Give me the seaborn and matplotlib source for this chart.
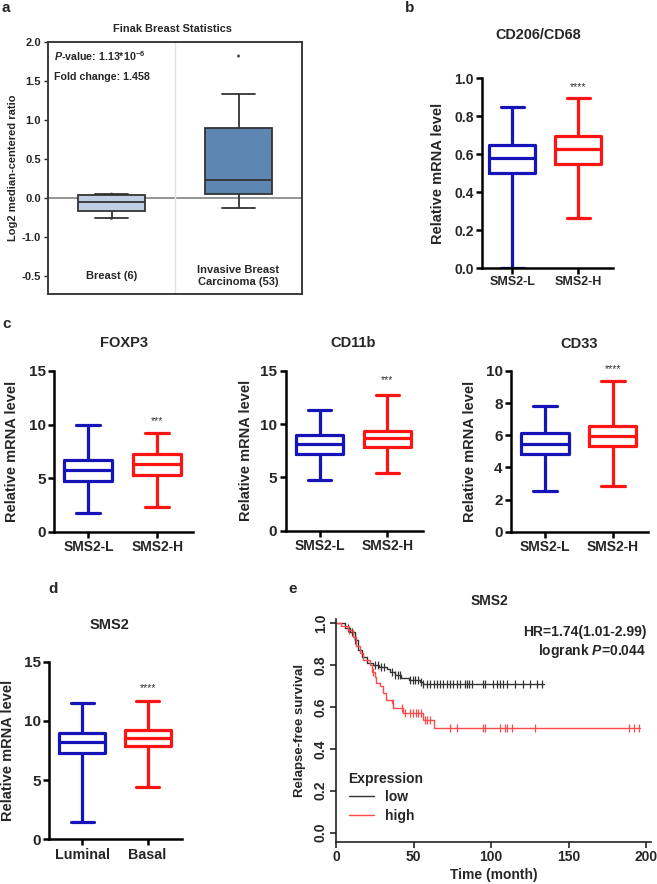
import numpy as np
import pandas as pd
import matplotlib
matplotlib.use("Agg")
import matplotlib.pyplot as plt
import seaborn as sns

# ==========================================================
# Data
# ==========================================================

# panel a - Oncomine box (min, q1, median, q3, max)
a_groups = ["Breast (6)", "Invasive Breast\nCarcinoma (53)"]
a_breast = [-0.26, -0.16, -0.05, 0.04, 0.05]
a_invasive = [-0.13, 0.05, 0.23, 0.90, 1.33]
a_dot_group = ["Breast (6)", "Breast (6)", "Invasive Breast\nCarcinoma (53)"]
a_dot_value = [0.05, -0.26, 1.82]
a_ticks = [2.0, 1.5, 1.0, 0.5, 0.0, -0.5, -1.0]
a_ticklabels = ["2.0", "1.5", "1.0", "0.5", "0.0", "-1.0", "-0.5"]

# panels b, c, d - GraphPad boxes (min, q1, median, q3, max)
sms2_groups = ["SMS2-L", "SMS2-H"]
cd206_low = [0.0, 0.50, 0.58, 0.65, 0.845]
cd206_high = [0.265, 0.55, 0.625, 0.695, 0.895]
foxp3_low = [1.72, 4.69, 5.72, 6.69, 10.0]
foxp3_high = [2.34, 5.31, 6.31, 7.25, 9.22]
cd11b_low = [4.72, 7.23, 8.15, 8.96, 11.29]
cd11b_high = [5.41, 7.87, 8.72, 9.34, 12.7]
cd33_low = [2.53, 4.82, 5.46, 6.12, 7.84]
cd33_high = [2.86, 5.35, 5.96, 6.60, 9.38]
subtype_groups = ["Luminal", "Basal"]
sms2_luminal = [1.49, 7.31, 8.24, 8.95, 11.54]
sms2_basal = [4.44, 7.91, 8.58, 9.23, 11.68]

# panel e - Kaplan-Meier steps
low_time = [0, 6, 9, 12, 14, 16.5, 20, 24, 28, 33, 35, 38, 42, 47, 54, 56, 134]
low_surv = [1.0, 0.977, 0.96, 0.92, 0.87, 0.84, 0.81, 0.80, 0.79, 0.78,
            0.765, 0.753, 0.737, 0.73, 0.72, 0.71, 0.71]
high_time = [0, 3, 8, 11, 13, 15.5, 17.5, 22, 23, 25, 26, 28.5, 30.5, 32.5,
             36, 37, 43, 56, 63, 196]
high_surv = [1.0, 0.985, 0.968, 0.936, 0.89, 0.857, 0.825, 0.80, 0.765, 0.745,
             0.713, 0.70, 0.666, 0.634, 0.618, 0.594, 0.573, 0.538, 0.50, 0.50]
low_censor = [8, 10, 12.5, 25, 27, 29, 31, 36, 38, 40, 41, 47.7, 49.5, 51.0,
              53.1, 54.6, 56.3, 58.5, 60.6, 63.2, 64.9, 67.1, 69.2, 71.4, 73.5,
              75.7, 77.8, 80.0, 83.2, 84.7, 86.0, 87.5, 95.0, 96.1, 101.5,
              103.6, 105.8, 107.5, 110.1, 115.5, 120.8, 125.1, 129.4, 132.7]
high_censor = [8.5, 12, 24, 36.6, 42.4, 44.5, 47.7, 49.9, 51.6, 53.1, 54.6,
               57.4, 58.5, 60.6, 73.5, 77.8, 95.0, 96.1, 105.8, 109.0, 110.1,
               113.3, 128.4, 188.6, 191.8, 195.0]

# ==========================================================
# Style
# ==========================================================

sns.set_style("ticks")
plt.rcParams["font.family"] = ["Liberation Sans", "DejaVu Sans"]
plt.rcParams["font.weight"] = "bold"
plt.rcParams["axes.labelweight"] = "bold"
plt.rcParams["axes.titleweight"] = "bold"
plt.rcParams["mathtext.fontset"] = "custom"
plt.rcParams["mathtext.rm"] = "Liberation Sans:bold"
plt.rcParams["mathtext.it"] = "Liberation Sans:italic:bold"
plt.rcParams["mathtext.bf"] = "Liberation Sans:bold"

BLUE = "#1414b8"
RED = "#ff1414"

W, H = 657, 884
fig = plt.figure(figsize=(W / 100, H / 100), dpi=100)


def add_ax(l, t, r, b):
    return fig.add_axes([l / W, 1 - b / H, (r - l) / W, (b - t) / H])


def ftext(x, y, s, **kw):
    fig.text(x / W, 1 - y / H, s, ha="center", va="center", **kw)


def five_num_frame(groups, first, second):
    return pd.DataFrame({
        "group": [groups[0]] * len(first) + [groups[1]] * len(second),
        "value": first + second,
    })


def gp_box(ax, groups, first, second, ylim, yticks, stars, star_y,
           ylabel_x, yfs=11, xfs=10, lfs=10.5):
    df = five_num_frame(groups, first, second)
    sns.boxplot(data=df, x="group", y="value", hue="group",
                palette=[BLUE, RED], fill=False, width=0.7,
                whis=(0, 100), linewidth=2.3, legend=False, ax=ax)
    ax.set_ylim(*ylim)
    ax.set_yticks(yticks)
    ax.set_xlim(-0.5, 1.52)
    ax.set_xlabel("")
    ax.set_ylabel("Relative mRNA level", fontsize=lfs)
    ax.yaxis.set_label_coords(ylabel_x, 0.5)
    ax.text(1, star_y, stars, ha="center", va="center", fontsize=7.5,
            color="#333333", fontweight="normal")
    for s in ["top", "right"]:
        ax.spines[s].set_visible(False)
    for s in ["left", "bottom"]:
        ax.spines[s].set_linewidth(1.8)
        ax.spines[s].set_color("black")
    ax.tick_params(axis="both", width=1.8, length=4, color="black", pad=2)
    ax.tick_params(axis="y", labelsize=yfs)
    ax.tick_params(axis="x", labelsize=xfs)


# ==========================================================
# a. Oncomine
# ==========================================================

ax = add_ax(48, 42, 302, 294)
df_a = five_num_frame(a_groups, a_breast, a_invasive)
ax.axhline(0, color="#8c8c8c", lw=1.3, zorder=0)
ax.axvline(0.5, color="#e2e2e2", lw=1.0, zorder=0)
sns.boxplot(data=df_a, x="group", y="value", hue="group",
            palette=["#b9d0ea", "#4f86c0"], width=0.52, whis=(0, 100),
            linecolor="#333333", linewidth=1.3, legend=False, ax=ax)
sns.scatterplot(x=a_dot_group, y=a_dot_value, color="#555555", s=5,
                edgecolor="none", ax=ax)
ax.set_xlim(-0.5, 1.5)
ax.set_ylim(-1.23, 2.0)
ax.set_yticks(a_ticks)
ax.set_yticklabels(a_ticklabels)
ax.set_xticks([])
ax.set_xlabel("")
ax.set_ylabel("Log2 median-centered ratio", fontsize=8)
ax.yaxis.set_label_coords(-0.12, 0.5)
for s in ax.spines.values():
    s.set_linewidth(1.4)
    s.set_color("#3a3a3a")
ax.tick_params(axis="y", labelsize=8, length=3, width=1, pad=2)
for i, lab in enumerate(a_groups):
    ax.text(i, -1.0, lab, ha="center", va="center", fontsize=8,
            linespacing=1.2)
ax.text(0.025, 0.945, r"$\it{P}$-value: 1.13*10$^{-6}$", transform=ax.transAxes,
        ha="left", va="center", fontsize=7.7)
ax.text(0.025, 0.862, "Fold change: 1.458", transform=ax.transAxes,
        ha="left", va="center", fontsize=7.7)
ftext(172, 29, "Finak Breast Statistics", fontsize=7.9)

# ==========================================================
# b. CD206/CD68
# ==========================================================

ax = add_ax(482, 78, 613, 268)
gp_box(ax, sms2_groups, cd206_low, cd206_high, (0, 1.0),
       [0.0, 0.2, 0.4, 0.6, 0.8, 1.0], "****", 0.95, -0.28,
       yfs=10, xfs=9, lfs=10.5)
ax.set_xlim(-0.46, 1.53)
ftext(538, 35, "CD206/CD68", fontsize=10.4)

# ==========================================================
# c. FOXP3 / CD11b / CD33
# ==========================================================

ax = add_ax(54, 371, 193, 531.7)
gp_box(ax, sms2_groups, foxp3_low, foxp3_high, (0, 15), [0, 5, 10, 15],
       "***", 10.3, -0.25)
ftext(124, 343, "FOXP3", fontsize=10.5)

ax = add_ax(285.7, 370.7, 422.7, 530.7)
gp_box(ax, sms2_groups, cd11b_low, cd11b_high, (0, 15), [0, 5, 10, 15],
       "***", 14.1, -0.24)
ftext(353, 343, "CD11b", fontsize=10.5)

ax = add_ax(511, 371, 648, 531.7)
gp_box(ax, sms2_groups, cd33_low, cd33_high, (0, 10), [0, 2, 4, 6, 8, 10],
       "****", 10.1, -0.25)
ftext(579, 344, "CD33", fontsize=10.5)

# ==========================================================
# d. SMS2 by subtype
# ==========================================================

ax = add_ax(49.3, 661.7, 181.7, 839.3)
gp_box(ax, subtype_groups, sms2_luminal, sms2_basal, (0, 15), [0, 5, 10, 15],
       "****", 12.8, -0.26, xfs=10.3)
ftext(110, 625, "SMS2", fontsize=10.5)

# ==========================================================
# e. Kaplan-Meier
# ==========================================================

ax = add_ax(336, 619, 651, 841.7)
km = pd.DataFrame({
    "time": low_time + high_time,
    "surv": low_surv + high_surv,
    "Expression": ["low"] * len(low_time) + ["high"] * len(high_time),
})
sns.lineplot(data=km, x="time", y="surv", hue="Expression",
             palette={"low": "#333333", "high": "#ff4a4a"},
             estimator=None, sort=False, drawstyle="steps-post",
             linewidth=1.0, ax=ax)


def step_value(times, survs, t):
    idx = np.searchsorted(times, t, side="right") - 1
    return np.asarray(survs)[idx]


sns.scatterplot(x=low_censor, y=step_value(low_time, low_surv, low_censor),
                marker="|", s=26, linewidth=0.9, color="#333333", ax=ax)
sns.scatterplot(x=high_censor, y=step_value(high_time, high_surv, high_censor),
                marker="|", s=26, linewidth=0.9, color="#ff4a4a", ax=ax)
ax.set_xlim(0, 203)
ax.set_ylim(-0.043, 1.02)
ax.set_xticks([0, 50, 100, 150, 200])
ax.set_yticks([0.0, 0.2, 0.4, 0.6, 0.8, 1.0])
ax.set_yticklabels(["0.0", "0.2", "0.4", "0.6", "0.8", "1.0"],
                   rotation=90, va="center")
ax.set_xlabel("Time (month)", fontsize=10, labelpad=3)
ax.set_ylabel("Relapse-free survival", fontsize=9.5)
ax.yaxis.set_label_coords(-0.095, 0.5)
for s in ["top", "right"]:
    ax.spines[s].set_visible(False)
for s in ["left", "bottom"]:
    ax.spines[s].set_linewidth(1.2)
    ax.spines[s].set_color("#222222")
ax.tick_params(axis="both", width=1.2, length=4, labelsize=10, pad=2)
leg = ax.legend(title="Expression", loc="lower left", frameon=False,
                bbox_to_anchor=(0.0, 0.03), fontsize=10, title_fontsize=10,
                handlelength=1.8, handletextpad=0.8, labelspacing=0.3)
leg._legend_box.align = "left"
leg.get_title().set_fontweight("bold")
ax.text(0.985, 0.94, "HR=1.74(1.01-2.99)", transform=ax.transAxes,
        ha="right", va="center", fontsize=10)
ax.text(0.985, 0.857, r"logrank $\it{P}$=0.044", transform=ax.transAxes,
        ha="right", va="center", fontsize=10)
ftext(489, 601, "SMS2", fontsize=10)

# ==========================================================
# Panel letters
# ==========================================================

ftext(6, 8, "a", fontsize=11)
ftext(410, 8, "b", fontsize=11)
ftext(7, 324, "c", fontsize=11)
ftext(53, 589, "d", fontsize=11)
ftext(293, 589, "e", fontsize=11)

fig.savefig("out.png", dpi=100)
